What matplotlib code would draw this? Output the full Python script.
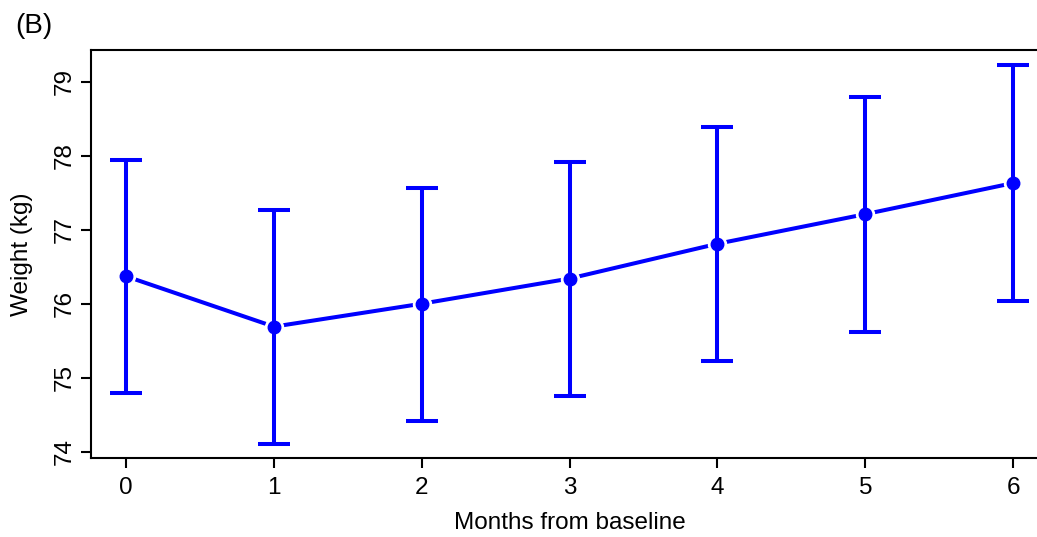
import matplotlib
matplotlib.use("Agg")
import matplotlib.pyplot as plt
import numpy as np

months = [0, 1, 2, 3, 4, 5, 6]
weight_mean = [76.37, 75.69, 76.00, 76.34, 76.81, 77.21, 77.63]
weight_upper = [77.94, 77.26, 77.57, 77.91, 78.39, 78.79, 79.23]
weight_lower = [74.80, 74.11, 74.41, 74.75, 75.23, 75.62, 76.03]
yticks = [74, 75, 76, 77, 78, 79]
xticks = [0, 1, 2, 3, 4, 5, 6]

plt.rcParams['font.family'] = ['Liberation Sans', 'DejaVu Sans']

W, H = 1037, 537
fig = plt.figure(figsize=(W / 100, H / 100), dpi=100)
ax = fig.add_axes([90.7 / W, 1 - 458.3 / H, (1048.6 - 90.7) / W, (458.3 - 50.3) / H])

blue = '#0000FF'
x = np.array(months)
m = np.array(weight_mean)
lo = np.array(weight_lower)
hi = np.array(weight_upper)

ax.plot(x, m, color=blue, lw=2.9, zorder=1, solid_capstyle='butt')
# white halo to mimic R type="b" gaps
ax.plot(x, m, 'o', ms=13, mfc='white', mec='white', zorder=2)
ax.errorbar(x, m, yerr=[m - lo, hi - m], fmt='none', ecolor=blue,
            elinewidth=2.9, capsize=11.5, capthick=2.9, zorder=3)
ax.plot(x, m, 'o', ms=9, color=blue, zorder=4)

ax.set_xlim(-0.24, 6.24)
ax.set_ylim(73.911, 79.424)
ax.set_xticks(xticks)
ax.set_yticks(yticks)
ax.set_yticklabels([str(v) for v in yticks], rotation=90, va='center')
ax.tick_params(axis='both', labelsize=17.5, length=7.5, width=1.5, colors='black')
ax.tick_params(axis='x', pad=6)
ax.tick_params(axis='y', pad=3)
for s in ax.spines.values():
    s.set_linewidth(1.5)

ax.set_xlabel('Months from baseline', fontsize=17.5)
ax.set_ylabel('Weight (kg)', fontsize=17.5)
ax.xaxis.set_label_coords(0.5, (H - 523 - (H - 458.3)) / (458.3 - 50.3))
ax.xaxis.label.set_va('center')
ax.yaxis.set_label_coords((22 - 90.7) / (1048.6 - 90.7), 0.5)
ax.yaxis.label.set_va('center')

fig.text(15 / W, 1 - 26 / H, '(B)', fontsize=20, ha='left', va='center')

fig.savefig('out.png', dpi=100)
